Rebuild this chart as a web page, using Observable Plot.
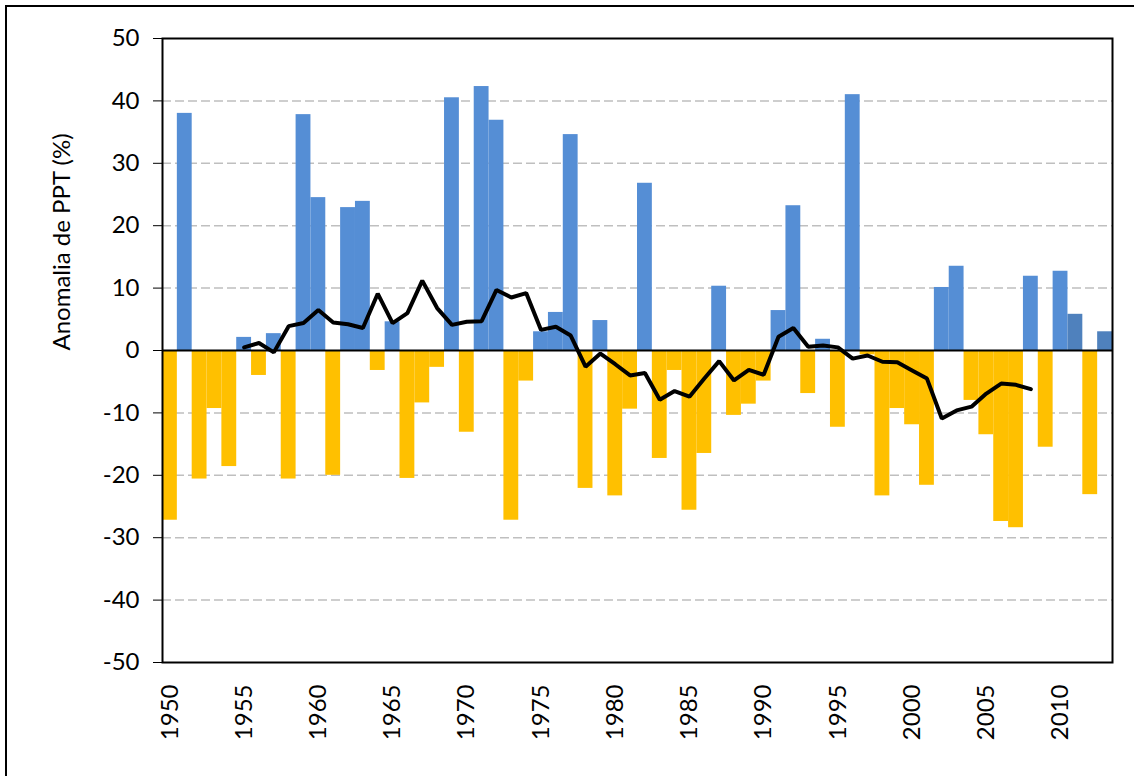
<!DOCTYPE html>
<html>
<head>
<meta charset="utf-8">
<script src="https://cdn.jsdelivr.net/npm/d3@7"></script>
<script src="https://cdn.jsdelivr.net/npm/@observablehq/plot@0.6"></script>
<style>
  html, body { margin: 0; padding: 0; background: #fff; }
  #wrap { position: relative; width: 1134px; height: 776px; overflow: hidden; }
  #outer { position: absolute; left: 5px; top: 5px; width: 1200px; height: 900px; border: 2px solid #000; box-sizing: border-box; }
  #chart { position: absolute; left: 0; top: 0; }
  svg { font-family: Lato, "Open Sans", sans-serif; }
</style>
</head>
<body>
<div id="wrap"><div id="outer"></div><div id="chart"></div></div>
<script>
// Years (categories)
const years = [1950,1951,1952,1953,1954,1955,1956,1957,1958,1959,
  1960,1961,1962,1963,1964,1965,1966,1967,1968,1969,
  1970,1971,1972,1973,1974,1975,1976,1977,1978,1979,
  1980,1981,1982,1983,1984,1985,1986,1987,1988,1989,
  1990,1991,1992,1993,1994,1995,1996,1997,1998,1999,
  2000,2001,2002,2003,2004,2005,2006,2007,2008,2009,
  2010,2011,2012,2013];
// Annual precipitation anomaly (%)
const anomalies = [-27.2,38.0,-20.6,-9.3,-18.6,2.1,-4.0,2.7,-20.6,37.8,
  24.5,-20.0,22.9,23.9,-3.2,4.6,-20.5,-8.4,-2.7,40.5,
  -13.1,42.3,36.9,-27.2,-4.9,3.0,6.1,34.6,-22.1,4.8,
  -23.3,-9.4,26.8,-17.3,-3.2,-25.6,-16.5,10.3,-10.4,-8.6,
  -4.9,6.4,23.2,-6.9,1.8,-12.3,41.0,-0.7,-23.3,-9.3,
  -11.9,-21.6,10.1,13.5,-8.0,-13.5,-27.4,-28.4,11.9,-15.5,
  12.7,5.8,-23.1,3.0];
// Years whose bars are drawn in the darker blue
const darkYears = [2011, 2013];
// Running mean (black line)
const meanYears = [1955,1956,1957,1958,1959,1960,1961,1962,1963,1964,
  1965,1966,1967,1968,1969,1970,1971,1972,1973,1974,
  1975,1976,1977,1978,1979,1980,1981,1982,1983,1984,
  1985,1986,1987,1988,1989,1990,1991,1992,1993,1994,
  1995,1996,1997,1998,1999,2000,2001,2002,2003,2004,
  2005,2006,2007,2008];
const meanValues = [0.5,1.2,-0.3,3.9,4.4,6.5,4.5,4.2,3.6,9.1,
  4.4,6.0,11.2,6.8,4.1,4.6,4.7,9.7,8.5,9.2,
  3.3,3.8,2.4,-2.6,-0.5,-2.2,-4.0,-3.6,-7.9,-6.5,
  -7.4,-4.5,-1.7,-4.8,-3.1,-3.9,2.2,3.6,0.6,0.8,
  0.5,-1.3,-0.8,-1.8,-1.9,-3.2,-4.5,-10.9,-9.6,-9.0,
  -6.9,-5.3,-5.5,-6.2];
// Tick labels
const xTicks = [1950,1955,1960,1965,1970,1975,1980,1985,1990,1995,2000,2005,2010];
const yTicks = [-50,-40,-30,-20,-10,0,10,20,30,40,50];
const gridTicks = [-40,-30,-20,-10,10,20,30,40];
const yTitle = "Anomalia de PPT (%)";

const bars = years.map((year, i) => ({year, value: anomalies[i]}));
const mean = meanYears.map((year, i) => ({year, value: meanValues[i]}));

const chart = Plot.plot({
  width: 1134,
  height: 776,
  marginLeft: 162,
  marginRight: 22,
  marginTop: 38,
  marginBottom: 114,
  style: {fontSize: "24px", fontFamily: "Lato, 'Open Sans', sans-serif", color: "#000", background: "transparent"},
  x: {domain: [1949.5, 2013.5]},
  y: {domain: [-50, 50]},
  marks: [
    Plot.ruleY(gridTicks, {stroke: "#bfbfbf", strokeWidth: 1.5, strokeDasharray: "9,4"}),
    Plot.rectY(bars, {
      x1: d => d.year - 0.5,
      x2: d => d.year + 0.5,
      y: "value",
      fill: d => d.value < 0 ? "#ffc000" : (darkYears.includes(d.year) ? "#4f81bd" : "#558ed5"),
      inset: 0
    }),
    Plot.ruleY([0], {stroke: "#000", strokeWidth: 2}),
    Plot.line(mean, {x: "year", y: "value", stroke: "#000", strokeWidth: 4, strokeLinejoin: "miter"}),
    Plot.frame({stroke: "#000", strokeWidth: 2}),
    Plot.axisY({ticks: yTicks, tickSize: 9, tickPadding: 14, tickFormat: d => String(d), label: null, fontSize: 24}),
    Plot.axisX({ticks: xTicks, tickSize: 0, tickPadding: 22, tickRotate: -90, tickFormat: d => String(d), label: null, fontSize: 24}),
    Plot.text([yTitle], {frameAnchor: "left", dx: -100, rotate: -90, fontSize: 24, fill: "#000"})
  ]
});
document.getElementById("chart").appendChild(chart);
</script>
</body>
</html>
